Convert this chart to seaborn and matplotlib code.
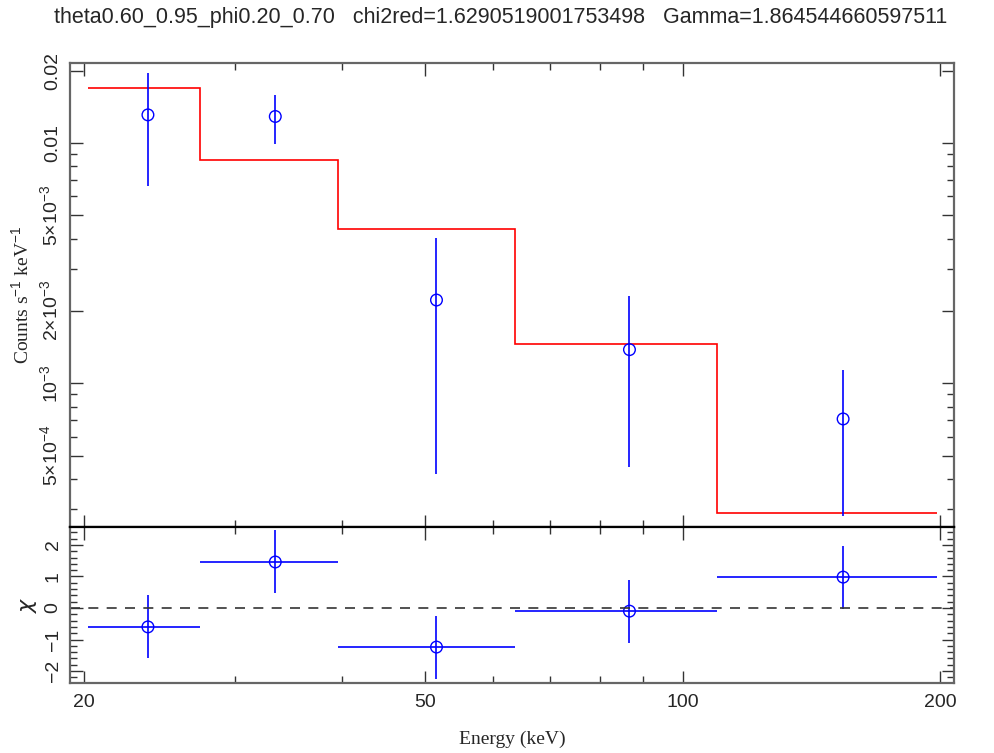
import numpy as np
import pandas as pd
import matplotlib
matplotlib.use("Agg")
import matplotlib.pyplot as plt
from matplotlib.ticker import FixedLocator, NullFormatter, FixedFormatter, MultipleLocator
import seaborn as sns

# ---- data ----
energy_lo = [20.2, 27.3, 39.6, 63.7, 109.7]
energy_hi = [27.3, 39.6, 63.7, 109.7, 198.0]
energy = [23.75, 33.45, 51.6, 86.7, 154.0]
rate = [0.0131, 0.0129, 0.00222, 0.00138, 0.00071]
rate_err = [0.0065, 0.0030, 0.0018, 0.00093, 0.00043]
model = [0.0170, 0.00851, 0.0044, 0.00146, 0.000289]
chi = [-0.60, 1.46, -1.24, -0.10, 0.98]

title = "theta0.60_0.95_phi0.20_0.70   chi2red=1.6290519001753498   Gamma=1.864544660597511"
y_ticks = [5e-4, 1e-3, 2e-3, 5e-3, 0.01, 0.02]
y_ticklabels = [r"5$\times$10$^{-4}$", r"10$^{-3}$", r"2$\times$10$^{-3}$",
                r"5$\times$10$^{-3}$", "0.01", "0.02"]
x_ticks = [20, 50, 100, 200]
x_ticklabels = ["20", "50", "100", "200"]

df = pd.DataFrame({"energy": energy, "rate": rate, "err": rate_err,
                   "lo": energy_lo, "hi": energy_hi, "model": model, "chi": chi})

sns.set_style("white")
plt.rcParams["font.family"] = ["Liberation Sans", "DejaVu Sans"]
plt.rcParams["mathtext.fontset"] = "custom"
plt.rcParams["mathtext.rm"] = "Liberation Sans"

fig = plt.figure(figsize=(9.95, 7.53), dpi=100)
L, W = 70 / 995, 884 / 995
ax1 = fig.add_axes([L, 1 - 527 / 753, W, 464 / 753])
ax2 = fig.add_axes([L, 1 - 683 / 753, W, 156 / 753], sharex=ax1)

blue = "#0000ff"
red = "#ff0000"

# top panel
edges = list(df["lo"]) + [df["hi"].iloc[-1]]
ax1.stairs(df["model"], edges, color=red, lw=1.2, baseline=None)
ax1.errorbar(df["energy"], df["rate"], yerr=df["err"], fmt="none", ecolor=blue, elinewidth=1.2)
sns.scatterplot(data=df, x="energy", y="rate", ax=ax1, marker="o", s=70,
                facecolor="none", edgecolor=blue, linewidth=1.0, legend=False)
ax1.set_xscale("log")
ax1.set_yscale("log")
ax1.set_xlim(19.26, 207.5)
ax1.set_ylim(2.52e-4, 0.02154)
ax1.yaxis.set_major_locator(FixedLocator(y_ticks))
ax1.yaxis.set_major_formatter(FixedFormatter(y_ticklabels))
minor_y = [k * 10.0 ** e for e in (-4, -3, -2) for k in range(2, 10)]
minor_y = [v for v in minor_y if v not in y_ticks]
ax1.yaxis.set_minor_locator(FixedLocator(minor_y))
ax1.yaxis.set_minor_formatter(NullFormatter())
ax1.set_ylabel(r"Counts s$^{-1}$ keV$^{-1}$", family="Liberation Serif", fontsize=14, labelpad=4)
ax1.set_xlabel("")
fig.text(501 / 995, 1 - 18 / 753, title, fontsize=15.5, ha="center", va="center")
for lab in ax1.get_yticklabels():
    lab.set_rotation(90)
    lab.set_va("center")
ax1.tick_params(axis="x", labelbottom=False)

# bottom panel
ax2.errorbar(df["energy"], df["chi"], yerr=1.0,
             xerr=[df["energy"] - df["lo"], df["hi"] - df["energy"]],
             fmt="none", ecolor=blue, elinewidth=1.2)
sns.scatterplot(data=df, x="energy", y="chi", ax=ax2, marker="o", s=70,
                facecolor="none", edgecolor=blue, linewidth=1.0, legend=False)
ax2.axhline(0, color="#333333", lw=1.2, ls=(0, (6, 5)))
ax2.set_ylim(-2.38, 2.57)
ax2.yaxis.set_major_locator(MultipleLocator(1))
ax2.yaxis.set_minor_locator(MultipleLocator(0.2))
ax2.set_ylabel(r"$\chi$", fontsize=16, labelpad=4)
ax2.set_xlabel("Energy (keV)", family="Liberation Serif", fontsize=14, labelpad=14)
ax2.xaxis.set_major_locator(FixedLocator(x_ticks))
ax2.xaxis.set_major_formatter(FixedFormatter(x_ticklabels))
ax2.xaxis.set_minor_locator(FixedLocator([30, 40, 60, 70, 80, 90]))
ax2.xaxis.set_minor_formatter(NullFormatter())
for lab in ax2.get_yticklabels():
    lab.set_rotation(90)
    lab.set_va("center")

for ax in (ax1, ax2):
    ax.tick_params(which="both", direction="in", top=True, right=True, left=True, bottom=True,
                   labelsize=14, color="#333333")
    ax.tick_params(which="major", length=9, width=1)
    ax.tick_params(which="minor", length=5, width=1)
    ax.tick_params(axis="y", which="major", pad=6)
    for s in ax.spines.values():
        s.set_color("#666666")
        s.set_linewidth(1.6)
ax1.spines["bottom"].set_color("black")
ax2.spines["top"].set_color("black")
ax2.tick_params(axis="x", which="major", pad=8)

fig.savefig("out.png", dpi=100)
